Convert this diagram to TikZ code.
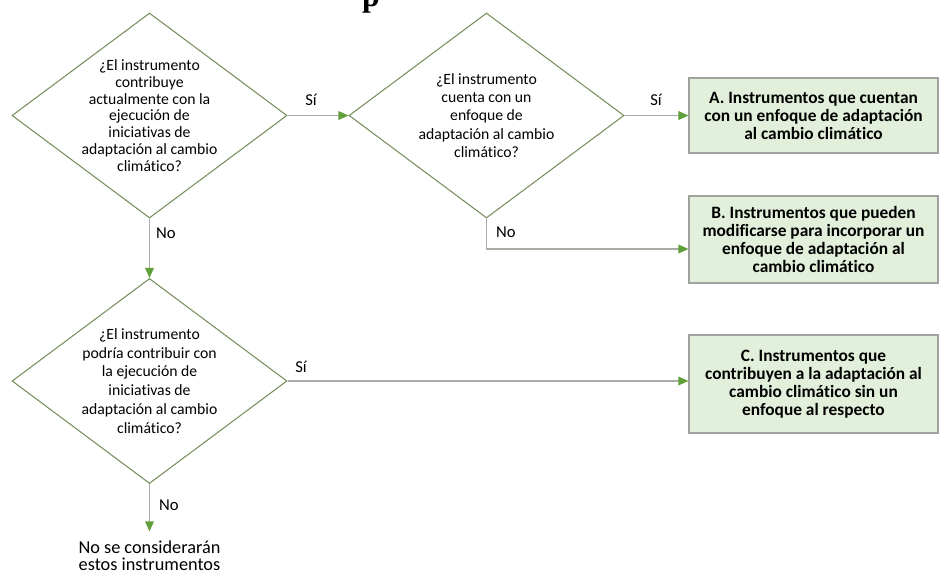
\documentclass[tikz,border=0pt]{standalone}
\usepackage{fontspec}
\setmainfont{Carlito}[Ligatures=NoCommon]
\newfontfamily\serifa{Liberation Serif}
\usetikzlibrary{arrows.meta,shapes.geometric}
\definecolor{oliva}{RGB}{118,143,92}
\definecolor{gris}{RGB}{168,172,164}
\definecolor{hoja}{RGB}{96,160,58}
\definecolor{menta}{RGB}{226,239,218}
\definecolor{borde}{RGB}{160,162,158}
\tikzset{
  >={Triangle[length=3mm,width=2.6mm,color=hoja]},
  pregunta/.style={diamond,draw=oliva,line width=0.9pt,inner sep=-1cm,
    minimum width=8.25cm,minimum height=6.15cm,align=center,
    font=\fontsize{13.4}{#1}\selectfont},
  pregunta/.default=14.3,
  caja/.style={draw=borde,fill=menta,line width=0.9pt,minimum width=7.47cm,
    minimum height=#1,align=center,font=\fontsize{14.8}{15.4}\selectfont\bfseries},
  caja/.default=2.5cm,
  flecha/.style={->,draw=gris,line width=1pt},
  etiqueta/.style={font=\fontsize{14.2}{14.6}\selectfont,inner sep=0pt,align=center},
}

\begin{document}
\begin{tikzpicture}[x=0.03cm,y=-0.03cm]
  \useasboundingbox (0,0) rectangle (941,575);
  % title, cut off at the top
  \node[font=\serifa\bfseries\fontsize{27}{27}\selectfont,anchor=base,inner sep=0pt] (titulo) at (371,6) {p};
  % questions
  \node[pregunta] (q1) at (149.5,115.5) {¿El instrumento\\contribuye\\actualmente con la\\ejecución de\\iniciativas de\\adaptación al cambio\\climático?};
  \node[pregunta=15.6] (q2) at (486.5,115.5) {¿El instrumento\\cuenta con un\\enfoque de\\adaptación al cambio\\climático?};
  \node[pregunta=16.1] (q3) at (149.5,381) {¿El instrumento\\podría contribuir con\\la ejecución de\\iniciativas de\\adaptación al cambio\\climático?};
  % results
  \node[caja=2.25cm] (ra) at (813.5,115.5) {A. Instrumentos que cuentan\\con un enfoque de adaptación\\al cambio climático};
  \node[caja=2.61cm] (rb) at (813.5,239.5) {B. Instrumentos que pueden\\modificarse para incorporar un\\enfoque de adaptación al\\cambio climático};
  \node[caja=2.94cm] (rc) at (813.5,384) {C. Instrumentos que\\contribuyen a la adaptación al\\cambio climático sin un\\enfoque al respecto};
  \node[etiqueta,font=\fontsize{15.6}{14.6}\selectfont,inner ysep=8pt] (fin) at (149.5,556) {No se considerarán\\estos instrumentos};
  % connectors
  \coordinate (codo) at (q2.south |- 0,249);
  \draw[flecha] (q1.east) -- (q2.west);
  \draw[flecha] (q2.east) -- (ra.west);
  \draw[flecha] (q2.south) -- (codo) -- (codo -| rb.west);
  \draw[flecha] (q1.south) -- (q3.north);
  \draw[flecha] (q3.east) -- (q3.east -| rc.west);
  \draw[flecha] (q3.south) -- (fin.north);
  \node[etiqueta] (si1) at (311,100) {Sí};
  \node[etiqueta] (si2) at (656,100) {Sí};
  \node[etiqueta] (si3) at (301,367) {Sí};
  \node[etiqueta] (no1) at (166,233) {No};
  \node[etiqueta] (no2) at (506,232) {No};
  \node[etiqueta] (no3) at (169,505) {No};
\end{tikzpicture}
\end{document}
